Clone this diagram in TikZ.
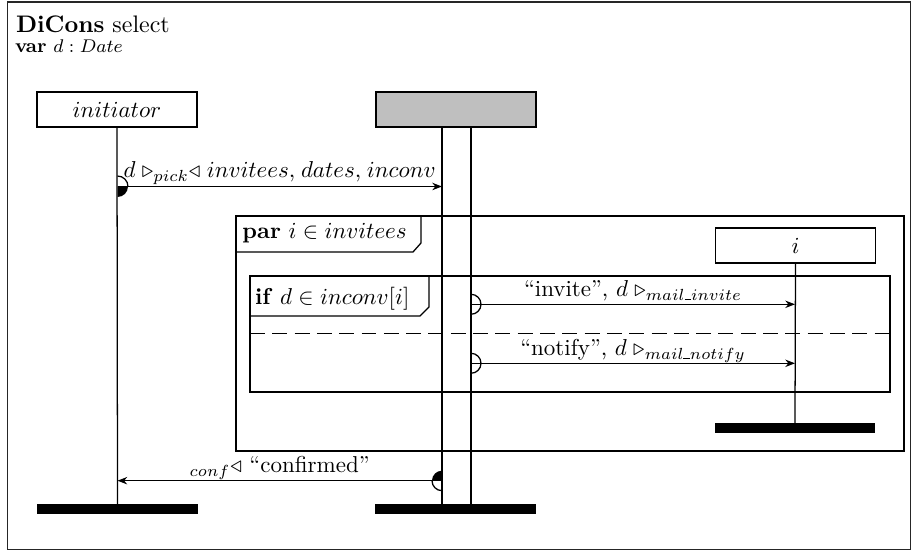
\documentclass[tikz,border=0pt]{standalone}
\usepackage{amsmath,amssymb}
\usetikzlibrary{arrows.meta,calc}
\newcommand{\usc}{\mathord{\rule{2.8pt}{0.6pt}}}
\begin{document}
\begin{tikzpicture}[x=0.4348pt,y=-0.4348pt,
  every node/.style={inner sep=0pt, outer sep=0pt},
  thin line/.style={line width=0.55pt},
  objbox/.style={draw, line width=0.55pt, minimum width=69.6pt, minimum height=15.2pt},
  endbar/.style={fill=black, minimum width=70pt, minimum height=4.5pt},
  life/.style={line width=0.55pt},
  msg/.style={line width=0.55pt, -{Stealth[length=4.2pt,width=3.2pt,inset=1.3pt]}},
  frameline/.style={line width=0.55pt},
  lbl/.style={anchor=base}
]
\useasboundingbox (0,0) rectangle (912,552);
% outer frame
\draw[line width=0.7pt, black!85] (7.5,2) rectangle (910.5,549.5);
% title
\node[anchor=base west] (title) at (16,32.5) {\fontsize{10.4}{12}\selectfont\textbf{DiCons} select};
\node[anchor=base west] (vardecl) at (15,53) {\fontsize{8.5}{10}\selectfont\textbf{var} $d:Date$};

% objects
\node[objbox] (init) at (117,109.5) {$initiator$};
\node[objbox, fill=black!25] (grey) at (456,109.5) {};
\node[objbox] (ibox) at (795.5,245.5) {$i$};

% end bars
\node[endbar] (initbar) at (117.5,509) {};
\node[endbar] (greybar) at (455.5,509) {};
\node[endbar] (ibar) at (795,428) {};

% lifelines
\coordinate (g1t) at (442,127);
\coordinate (g1b) at (442,504);
\coordinate (g2t) at (471,127);
\coordinate (g2b) at (471,504);
\draw[life] (init.south) -- (initbar.north);
\draw[life] (g1t) -- (g1b);
\draw[life] (g2t) -- (g2b);
\draw[life] (ibox.south) -- (ibar.north);

% par frame
\draw[frameline] (236,216) rectangle (904,451);
\draw[frameline] (236,252) -- (413,252) -- (421,243) -- (421,216);
\node[anchor=base west] (parlbl) at (242.5,238.5) {\textbf{par} $i \in invitees$};

% if frame
\draw[frameline] (250,276) rectangle (890,392);
\draw[frameline] (250,316) -- (420,316) -- (429,307) -- (429,276);
\node[anchor=base west] (iflbl) at (255,305) {\textbf{if} $d \in inconv[i]$};
\draw[frameline, dash pattern=on 6.5pt off 3.2pt] (250,333.3) -- (890,333.3);

% message 1
\coordinate (m1s) at (117.5,186.5);
\coordinate (m1e) at (442,186.5);
\draw[msg] (m1s) -- (m1e);
\draw[thin line] ($(m1s)+(0,-10.5)$) arc[start angle=-90, end angle=0, radius=10.5];
\fill (m1s) -- ($(m1s)+(10.5,0)$) arc[start angle=0, end angle=90, radius=10.5] -- cycle;
\node[lbl] (m1l) at (279.7,178) {$d \mathrel{\triangleright_{pick}}\mathrel{\triangleleft} invitees,\mskip1.5mu dates,\mskip1.5mu inconv$};

% invite
\coordinate (m2s) at (471,304.3);
\coordinate (m2e) at (795,304.3);
\draw[msg] (m2s) -- (m2e);
\draw[thin line] ($(m2s)+(0,-10)$) arc[start angle=-90, end angle=90, radius=10];
\node[lbl] (m2l) at (633,297) {``invite'', $d\; \triangleright_{mail\usc invite}$};

% notify
\coordinate (m3s) at (471,363.3);
\coordinate (m3e) at (795,363.3);
\draw[msg] (m3s) -- (m3e);
\draw[thin line] ($(m3s)+(0,-10)$) arc[start angle=-90, end angle=90, radius=10];
\node[lbl] (m3l) at (633,356) {``notify'', $d\; \triangleright_{mail\usc notify}$};

% confirmed
\coordinate (m4s) at (442,480.7);
\coordinate (m4e) at (117.5,480.7);
\draw[msg] (m4s) -- (m4e);
\draw[thin line] ($(m4s)+(0,10)$) arc[start angle=90, end angle=180, radius=10];
\fill (m4s) -- ($(m4s)+(-10,0)$) arc[start angle=180, end angle=270, radius=10] -- cycle;
\node[lbl] (m4l) at (279.7,473) {${}_{conf}\triangleleft$\ ``confirmed''};
\end{tikzpicture}
\end{document}
